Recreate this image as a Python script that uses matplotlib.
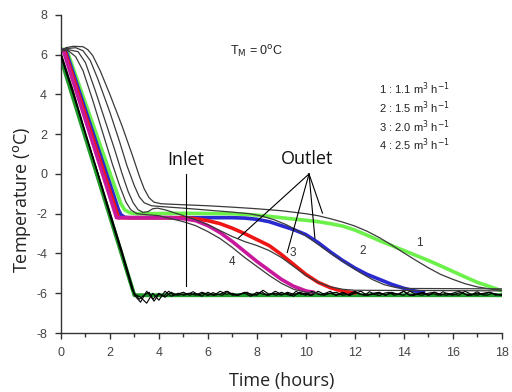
import numpy as np
import matplotlib
matplotlib.use("Agg")
import matplotlib.pyplot as plt

plt.rcParams['axes.unicode_minus'] = False
plt.rcParams['font.family'] = ['Liberation Sans', 'DejaVu Sans']

# model outlet curves (time h, temperature C)
t_flow4 = [0, 0.1, 2.27, 3.0, 4.0, 4.5, 5.0, 5.5, 6.0, 6.5, 7.0, 7.5, 8.0, 8.5, 9.0, 9.5, 10.0, 10.3]
T_flow4 = [6.2, 6.2, -2.2, -2.2, -2.2, -2.2, -2.25, -2.35, -2.6, -2.95, -3.4, -3.9, -4.4, -4.85, -5.3, -5.65, -5.88, -5.95]
t_flow3 = [0, 0.15, 2.35, 3.0, 4.0, 5.0, 5.5, 6.0, 6.5, 7.0, 7.5, 8.0, 8.5, 9.0, 9.5, 10.0, 10.5, 11.0, 11.5, 12.0]
T_flow3 = [6.2, 6.2, -2.2, -2.2, -2.2, -2.2, -2.25, -2.35, -2.5, -2.73, -3.0, -3.3, -3.6, -4.05, -4.55, -5.05, -5.45, -5.72, -5.9, -5.98]
t_flow2 = [0, 0.2, 2.35, 2.45, 2.6, 2.8, 4.0, 6.0, 7.0, 7.5, 8.0, 8.5, 9.0, 9.5, 10.0, 10.5, 11.0, 11.5,
           12.0, 12.5, 13.0, 13.5, 14.0, 14.5, 14.8]
T_flow2 = [6.25, 6.2, -1.8, -2.05, -2.18, -2.2, -2.2, -2.2, -2.2, -2.22, -2.28, -2.4, -2.6, -2.8, -3.05, -3.45, -3.92, -4.35,
           -4.73, -5.05, -5.3, -5.55, -5.75, -5.9, -5.95]
t_flow1 = [0, 0.25, 2.3, 2.45, 2.6, 2.8, 3.1, 5.0, 7.0, 8.0, 8.5, 9.0, 9.5, 10.0, 10.5, 11.0, 11.5, 12.0, 12.5,
           13.0, 13.5, 14.0, 14.5, 15.0, 15.5, 16.0, 16.5, 17.0, 17.5, 18.0]
T_flow1 = [6.3, 6.2, -1.0, -1.5, -1.8, -1.95, -2.0, -1.98, -2.0, -2.07, -2.13, -2.2, -2.27, -2.33, -2.4, -2.5, -2.62, -2.82, -3.08,
           -3.35, -3.6, -3.85, -4.1, -4.35, -4.62, -4.9, -5.18, -5.45, -5.66, -5.88]

# measured outlet curves
t_meas1 = [0, 0.2, 0.5, 0.9, 1.1, 1.3, 1.6, 2.0, 2.5, 2.9, 3.2, 3.4, 3.6, 3.8, 4.1, 5.0, 6.0, 7.0, 8.0, 9.0,
           10.0, 10.5, 11.0, 11.5, 12.0, 12.5, 13.0, 13.5, 14.0, 14.5, 15.0, 15.5, 16.0, 16.5, 17.0, 17.5, 18.0]
T_meas1 = [6.2, 6.35, 6.42, 6.4, 6.25, 5.95, 5.2, 4.0, 2.4, 1.0, -0.1, -0.75, -1.2, -1.42, -1.5, -1.55, -1.6, -1.67, -1.75, -1.85,
           -2.0, -2.1, -2.25, -2.42, -2.62, -2.88, -3.2, -3.57, -3.97, -4.35, -4.72, -5.05, -5.3, -5.52, -5.68, -5.78, -5.85]
t_meas2 = [0, 0.2, 0.6, 0.9, 1.2, 1.5, 2.0, 2.4, 2.7, 3.0, 3.2, 3.4, 3.7, 4.2, 5.0, 6.0, 7.0, 7.7, 8.2, 8.7,
           9.2, 9.7, 10.2, 10.7, 11.2, 11.7, 12.2, 12.7, 13.2, 13.7, 14.2, 18.0]
T_meas2 = [6.2, 6.3, 6.35, 6.2, 5.7, 4.8, 3.1, 1.6, 0.4, -0.6, -1.15, -1.45, -1.6, -1.65, -1.72, -1.82, -1.92, -2.0, -2.12, -2.3,
           -2.55, -2.88, -3.28, -3.72, -4.15, -4.55, -4.95, -5.3, -5.57, -5.72, -5.76, -5.78]
t_meas3 = [0, 0.3, 0.7, 1.0, 1.4, 1.8, 2.2, 2.5, 2.75, 2.95, 3.15, 3.35, 3.55, 3.75, 3.95, 4.3, 5.0, 5.5, 6.0, 6.5,
           7.0, 7.5, 8.0, 8.5, 9.0, 9.5, 10.0, 10.5, 11.0, 11.5, 12.0, 18.0]
T_meas3 = [6.2, 6.25, 6.15, 5.6, 4.2, 2.7, 1.2, 0.0, -0.9, -1.45, -1.8, -1.93, -1.9, -1.75, -1.72, -1.82, -2.1, -2.3, -2.55, -2.85,
           -3.15, -3.4, -3.6, -3.85, -4.2, -4.65, -5.1, -5.45, -5.68, -5.8, -5.85, -5.88]
t_meas4 = [0, 0.3, 0.6, 0.9, 1.3, 1.7, 2.1, 2.4, 2.65, 2.85, 3.1, 3.5, 4.0, 4.5, 5.0, 5.5, 6.0, 6.5, 7.0, 7.5,
           8.0, 8.5, 9.0, 9.5, 10.0, 10.5]
T_meas4 = [6.2, 6.2, 5.9, 5.2, 3.7, 2.1, 0.5, -0.6, -1.4, -1.8, -2.0, -2.05, -2.1, -2.25, -2.4, -2.6, -2.9, -3.25, -3.7, -4.2,
           -4.65, -5.1, -5.5, -5.8, -5.95, -6.0]

# inlet: model line and measured traces
t_inlet = [0, 3.0, 18.0]
T_inlet = [5.8, -6.1, -6.1]
t_drop = [0, 0.5, 1.0, 1.5, 2.0, 2.5, 2.9]
T_drop_a = [6.1, 4.2, 2.1, 0.1, -1.9, -3.9, -5.6]
T_drop_b = [5.9, 4.0, 2.0, 0.0, -2.1, -4.1, -5.8]
T_drop_c = [6.0, 4.1, 2.0, 0.05, -2.0, -4.0, -5.7]
T_flat_a = [-6.1, -6.45, -5.9, -6.3, -6.0, -6.2, -5.95, -6.1, -6.05, -6.0, -6.1, -5.95, -6.05, -6.1,
            -5.9, -6.05, -6.0, -6.1, -5.95, -6.05, -6.1, -5.85, -6.05, -6.0, -6.1, -5.95, -6.05, -6.0,
            -6.1, -5.9, -6.05, -6.1, -6.0, -5.95, -6.1, -6.05, -5.9, -6.05, -6.1, -6.0, -5.95, -6.1,
            -6.0, -6.05, -5.9, -6.1, -6.05, -6.0, -6.1, -5.95, -6.05, -6.1, -6.0, -5.9, -6.05, -6.1,
            -6.0, -6.05, -5.95, -6.1, -6.05]
T_flat_b = [-6.05, -6.2, -6.5, -6.0, -6.35, -5.9, -6.15, -6.05, -5.95, -6.1, -6.0, -6.15, -5.95, -6.1,
            -6.05, -5.9, -6.1, -6.05, -6.0, -6.15, -5.95, -6.05, -6.1, -5.9, -6.05, -6.0, -6.15, -5.95,
            -6.05, -6.1, -5.9, -6.05, -6.0, -6.1, -5.95, -6.1, -6.0, -5.9, -6.1, -6.05, -6.0, -6.1,
            -5.95, -6.05, -6.1, -5.9, -6.05, -6.1, -6.0, -5.95, -6.1, -6.0, -6.05, -6.1, -5.9, -6.05,
            -6.1, -6.0, -5.95, -6.05, -6.1]
T_flat_c = [-6.0, -6.3, -6.1, -5.95, -6.4, -6.05, -6.15, -5.9, -6.1, -6.0, -6.1, -6.05, -5.92, -6.1, -6.0,
            -6.12, -5.97, -6.05, -6.1, -5.9, -6.05, -6.12, -6.0, -5.95, -6.1, -6.05, -5.92, -6.1, -6.02, -6.1,
            -5.95, -6.05, -6.12, -5.9, -6.05, -6.0, -6.12, -5.95, -6.08, -6.0, -5.9, -6.1, -6.05, -6.0, -6.12,
            -5.95, -6.05, -6.1, -5.92, -6.05, -6.12, -6.0, -5.95, -6.1, -6.05, -5.9, -6.08, -6.12, -6.0, -5.95,
            -6.1, -6.02, -6.1, -5.92, -6.05, -6.1, -6.0, -5.95, -6.12, -6.05, -5.92, -6.08, -6.1, -6.0, -6.05, -6.1]

flow_labels = ['1 : 1.1 m$^3$ h$^{-1}$', '2 : 1.5 m$^3$ h$^{-1}$',
               '3 : 2.0 m$^3$ h$^{-1}$', '4 : 2.5 m$^3$ h$^{-1}$']

fig = plt.figure(figsize=(5.12, 3.92), dpi=100)
ax = fig.add_axes([0.119, 0.1505, 0.861, 0.8115])

# inlet
ax.plot(t_inlet, T_inlet, color='#1f9a2a', lw=2.8, zorder=2)
for T_drop, T_flat in ((T_drop_a, T_flat_a), (T_drop_b, T_flat_b), (T_drop_c, T_flat_c)):
    t_flat = np.linspace(3.0, 18.0, len(T_flat))
    ax.plot(list(t_drop) + list(t_flat), list(T_drop) + list(T_flat),
            color='black', lw=0.8, zorder=3)

# model outlets
ax.plot(t_flow1, T_flow1, color='#6cf04a', lw=2.6, zorder=2)
ax.plot(t_flow2, T_flow2, color='#2a2ad0', lw=2.6, zorder=2)
ax.plot(t_flow3, T_flow3, color='#f01515', lw=2.6, zorder=2)
ax.plot(t_flow4, T_flow4, color='#c8189c', lw=2.6, zorder=2)

# measured outlets
for t, T in ((t_meas1, T_meas1), (t_meas2, T_meas2), (t_meas3, T_meas3), (t_meas4, T_meas4)):
    ax.plot(t, T, color='#3a3a3a', lw=0.9, zorder=4)

ax.set_xlim(0, 18)
ax.set_ylim(-8, 8)
ax.set_xticks(np.arange(0, 19, 2))
ax.set_xticks(np.arange(1, 18, 2), minor=True)
ax.set_yticks(np.arange(-8, 9, 2))
for side in ('top', 'right'):
    ax.spines[side].set_visible(False)
for side in ('left', 'bottom'):
    ax.spines[side].set_color('#333333')
    ax.spines[side].set_linewidth(1.0)
ax.tick_params(which='major', direction='out', length=4, width=1, color='#333333',
               labelsize=9, labelcolor='#444444', pad=6)
ax.tick_params(which='minor', direction='out', length=3, width=1, color='#333333')

# axis titles
fig.text(282 / 512, 1 - 381 / 392, 'Time (hours)', family='Open Sans', fontsize=13,
         color='#222222', ha='center', va='center')
fig.text(22 / 512, 1 - 200 / 392, 'Temperature ($^{\\rm o}$C)', family='Open Sans', fontsize=13,
         color='#222222', ha='center', va='center', rotation=90)

# annotations
ax.text(8.0, 6.13, 'T$_{\\rm M}$ = 0$^{\\rm o}$C', fontsize=9, ha='center', va='center', color='#222222')
for i, lab in enumerate(flow_labels):
    ax.text(12.98, 4.27 - 0.94 * i, lab, fontsize=8, ha='left', va='center', color='#222222')

ax.text(5.1, 0.7, 'Inlet', family='Open Sans', fontsize=13, ha='center', va='center', color='#111111')
ax.plot([5.1, 5.1], [0.0, -5.66], color='black', lw=0.8, zorder=5)

ax.text(10.07, 0.74, 'Outlet', family='Open Sans', fontsize=13, ha='center', va='center', color='#111111')
for x_end, y_end in ((7.24, -3.23), (9.24, -3.95), (10.37, -3.23), (10.68, -1.97)):
    ax.plot([10.13, x_end], [0.0, y_end], color='black', lw=0.8, zorder=5)

for x, y, s in ((14.65, -3.48, '1'), (12.34, -3.9, '2'), (9.48, -3.98, '3'), (6.97, -4.41, '4')):
    ax.text(x, y, s, fontsize=8.5, ha='center', va='center', color='#333333')

fig.savefig('out.png', dpi=100)
